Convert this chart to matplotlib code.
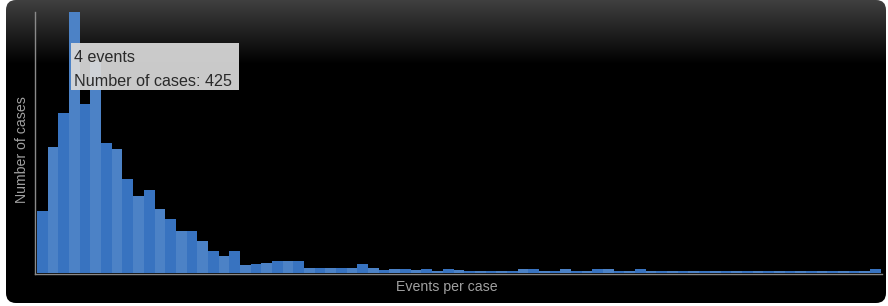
import numpy as np
import matplotlib
matplotlib.use("Agg")
import matplotlib.pyplot as plt
from matplotlib.patches import FancyBboxPatch, Rectangle

# ---- data ----
events = list(range(1, 80))
cases = [100, 205, 260, 425, 276, 345, 211, 201, 152, 125,
         135, 103, 88, 68, 68, 52, 35, 27, 35, 12,
         14, 16, 18, 18, 18, 8, 8, 8, 8, 8,
         14, 7, 4, 6, 5, 4, 6, 3, 5, 4,
         3, 3, 3, 3, 3, 5, 5, 3, 3, 5,
         3, 3, 5, 6, 3, 3, 6, 3, 3, 3,
         3, 3, 3, 3, 3, 3, 3, 3, 3, 3,
         3, 3, 3, 3, 3, 3, 3, 3, 6]
x_label = "Events per case"
y_label = "Number of cases"
tip_event = 4
tip_lines = [f"{tip_event} events", f"Number of cases: {cases[events.index(tip_event)]}"]

W, H = 888, 306
fig = plt.figure(figsize=(W / 100, H / 100), dpi=100)
fig.patch.set_facecolor("white")

# ---- background panel with gradient ----
bg = fig.add_axes([0, 0, 1, 1], zorder=0)
bg.set_xlim(0, W)
bg.set_ylim(H, 0)
bg.axis("off")
grad = np.zeros((H, 1))
rows = np.arange(H)
grad[:, 0] = np.clip(1 - rows / 64.0, 0, 1) * 0.25
img = bg.imshow(np.dstack([grad, grad, grad]), extent=[6, 886, 303, 0],
                aspect="auto", interpolation="bilinear")
panel = FancyBboxPatch((6, 0), 880, 303, boxstyle="round,pad=0,rounding_size=10",
                       transform=bg.transData, facecolor="none", edgecolor="none")
bg.add_patch(panel)
img.set_clip_path(panel)

# ---- main axes ----
ax = fig.add_axes([35 / W, 1 - 274 / H, (882 - 35) / W, (274 - 12) / H], zorder=1)
ax.set_facecolor("none")
colors = ["#3873c0" if i % 2 == 0 else "#4c82c6" for i in range(len(events))]
ax.bar(events, cases, width=1.0, color=colors, edgecolor="none", linewidth=0)
ax.set_xlim(0.31, 79.62)
ax.set_ylim(-2.45, 425.5)
for s in ["top", "right"]:
    ax.spines[s].set_visible(False)
for s in ["left", "bottom"]:
    ax.spines[s].set_color("#8a8a8a")
    ax.spines[s].set_linewidth(1.0)
ax.set_xticks([])
ax.set_yticks([])

fig.text(447 / W, 1 - 287 / H, x_label, color="#a0a0a0", fontsize=10.2,
         family="Liberation Sans", ha="center", va="center")
fig.text(22 / W, 1 - 150 / H, y_label, color="#a0a0a0", fontsize=10.2,
         family="Liberation Sans", ha="center", va="center", rotation=90)

# ---- tooltip ----
ov = fig.add_axes([0, 0, 1, 1], zorder=2)
ov.set_xlim(0, W)
ov.set_ylim(H, 0)
ov.axis("off")
ov.add_patch(Rectangle((71, 43), 168, 47, facecolor="#dadada", edgecolor="none", alpha=0.93))
ov.text(74, 58, tip_lines[0], color="#2a2a2a", fontsize=11.6, family="Liberation Sans",
        ha="left", va="center")
ov.text(74, 82, tip_lines[1], color="#2a2a2a", fontsize=11.6, family="Liberation Sans",
        ha="left", va="center")

fig.savefig("out.png", dpi=100, facecolor="white")
